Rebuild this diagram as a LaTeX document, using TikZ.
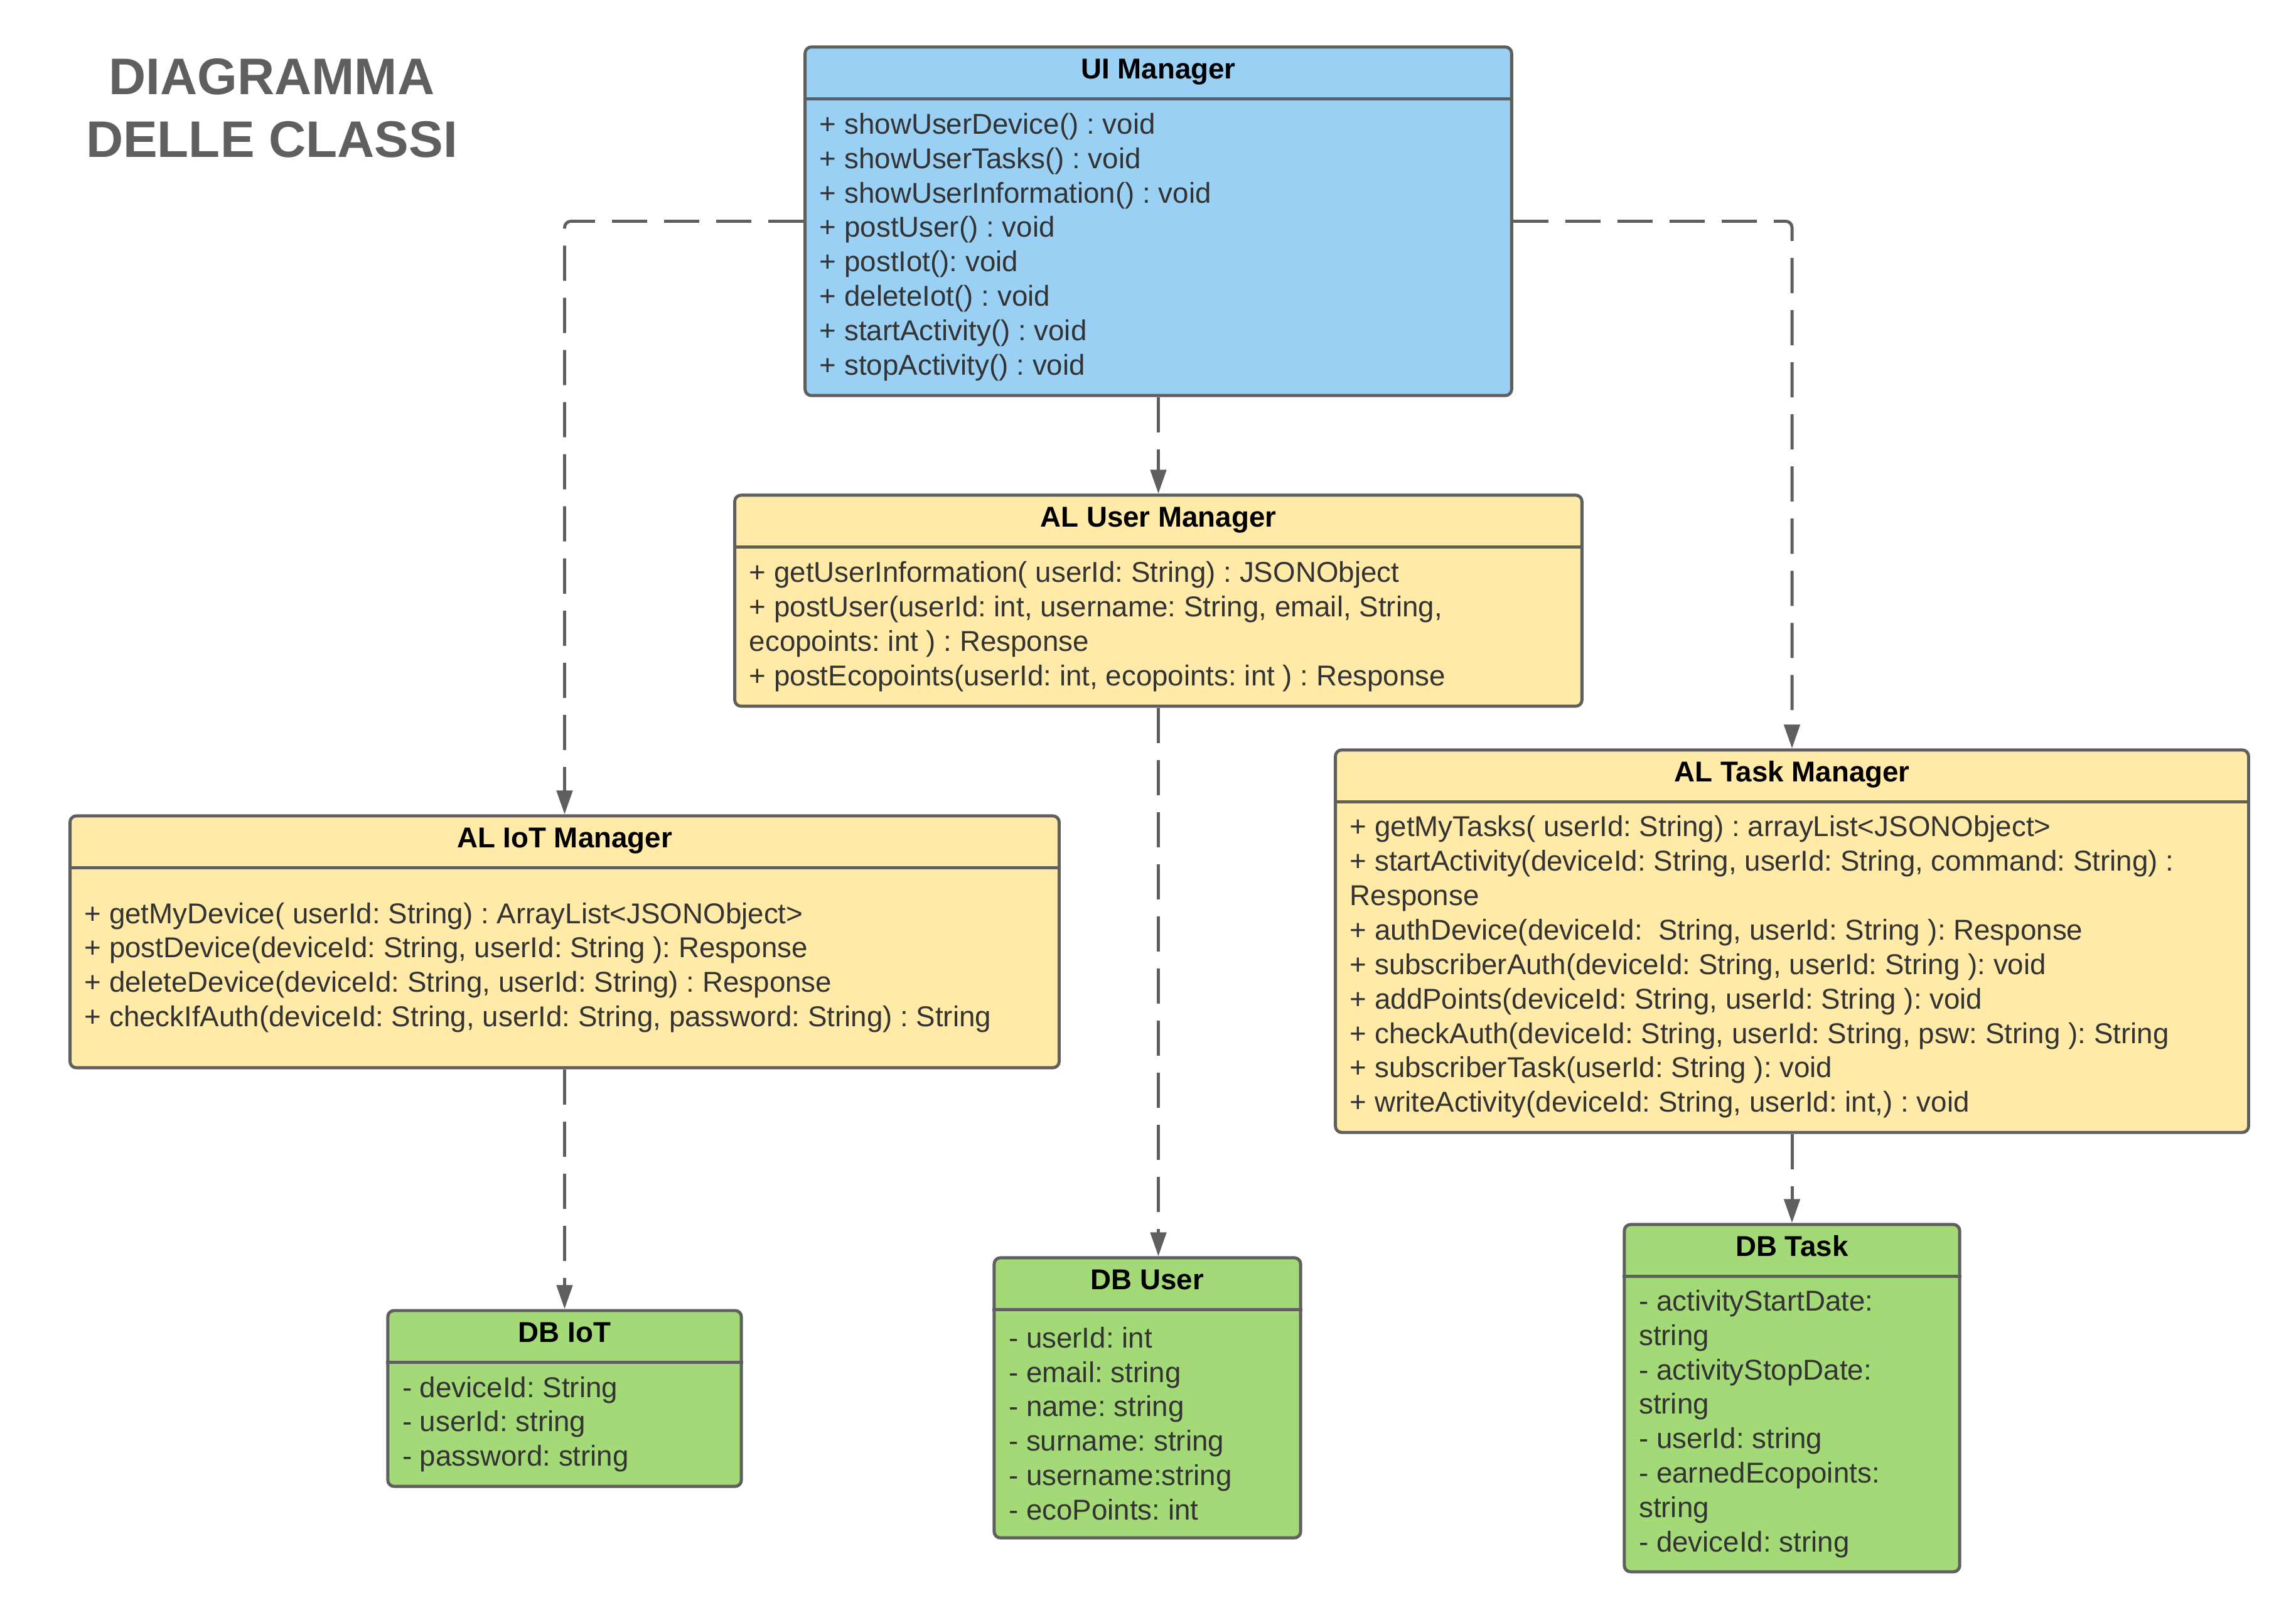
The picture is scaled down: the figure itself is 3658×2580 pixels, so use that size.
\documentclass[tikz,border=0pt]{standalone}
\usepackage{fontspec}
\setmainfont{Liberation Sans}
\usepackage{tikz}
\usetikzlibrary{arrows.meta}
\definecolor{linegray}{HTML}{5F5F5F}
\definecolor{textgray}{HTML}{333333}
\definecolor{uiblue}{HTML}{9AD0F3}
\definecolor{alyellow}{HTML}{FFEAA7}
\definecolor{dbgreen}{HTML}{A3D977}
\frenchspacing

\begin{document}
\begin{tikzpicture} [x=0.01cm, y=-0.01cm,
  classbox/.style={draw=linegray, line width=1.4pt, rounded corners=0.1cm, inner sep=0pt},
  classtitle/.style={font=\bfseries\fontsize{13}{15.6}\selectfont, anchor=base, inner sep=0pt},
  classbody/.style={font=\fontsize{13}{15.6}\selectfont, text=textgray, align=left, anchor=west, inner sep=0pt},
  divider/.style={draw=linegray, line width=1.4pt},
  dep/.style={draw=linegray, line width=1.4pt, dash pattern=on 0.56cm off 0.27cm, rounded corners=0.1cm, -{Triangle[length=0.38cm,width=0.25cm]}}]
\useasboundingbox (0,0) rectangle (3658,2580);
% title
\node [font=\bfseries\fontsize{23.3}{28.4}\selectfont, text=linegray, align=center] (title) at (433,172) {DIAGRAMMA\\DELLE CLASSI};
% UI Manager
\node [classbox, fill=uiblue, minimum width=11.25cm, minimum height=5.55cm] (ui) at (1845.5,352.5) {};
\draw [divider] ([yshift=-0.85cm]ui.north west) -- ([yshift=-0.85cm]ui.north east);
\node [classtitle] (uititle) at ([yshift=-0.53cm]ui.north) {UI Manager};
\node [classbody] (uibody) at ([xshift=0.25cm,yshift=-0.41cm]ui.west) {+ showUserDevice() : void\\+ showUserTasks() : void\\+ showUserInformation() : void\\+ postUser() : void\\+ postIot(): void\\+ deleteIot() : void\\+ startActivity() : void\\+ stopActivity() : void};
% AL User Manager
\node [classbox, fill=alyellow, minimum width=13.49cm, minimum height=3.36cm] (aluser) at (1845.5,957) {};
\draw [divider] ([yshift=-0.85cm]aluser.north west) -- ([yshift=-0.85cm]aluser.north east);
\node [classtitle] (alusertitle) at ([yshift=-0.53cm]aluser.north) {AL User Manager};
\node [classbody] (aluserbody) at ([xshift=0.25cm,yshift=-0.41cm]aluser.west) {+ getUserInformation( userId: String) : JSONObject\\+ postUser(userId: int, username: String, email, String,\\ecopoints: int ) : Response\\+ postEcopoints(userId: int, ecopoints: int ) : Response};
% AL IoT Manager
\node [classbox, fill=alyellow, minimum width=15.75cm, minimum height=4.01cm] (aliot) at (899.5,1500.5) {};
\draw [divider] ([yshift=-0.85cm]aliot.north west) -- ([yshift=-0.85cm]aliot.north east);
\node [classtitle] (aliottitle) at ([yshift=-0.53cm]aliot.north) {AL IoT Manager};
\node [classbody] (aliotbody) at ([xshift=0.25cm,yshift=-0.41cm]aliot.west) {+ getMyDevice( userId: String) : ArrayList<JSONObject>\\+ postDevice(deviceId: String, userId: String ): Response\\+ deleteDevice(deviceId: String, userId: String) : Response\\+ checkIfAuth(deviceId: String, userId: String, password: String) : String};
% AL Task Manager
\node [classbox, fill=alyellow, minimum width=14.54cm, minimum height=6.09cm] (altask) at (2855,1499.5) {};
\draw [divider] ([yshift=-0.85cm]altask.north west) -- ([yshift=-0.85cm]altask.north east);
\node [classtitle] (altasktitle) at ([yshift=-0.53cm]altask.north) {AL Task Manager};
\node [classbody] (altaskbody) at ([xshift=0.25cm,yshift=-0.41cm]altask.west) {+ getMyTasks( userId: String) : arrayList<JSONObject>\\+ startActivity(deviceId: String, userId: String, command: String) :\\Response\\+ authDevice(deviceId: \ String, userId: String ): Response\\+ subscriberAuth(deviceId: String, userId: String ): void\\+ addPoints(deviceId: String, userId: String ): void\\+ checkAuth(deviceId: String, userId: String, psw: String ): String\\+ subscriberTask(userId: String ): void\\+ writeActivity(deviceId: String, userId: int,) : void};
% DB IoT
\node [classbox, fill=dbgreen, minimum width=5.63cm, minimum height=2.8cm] (dbiot) at (899.5,2228) {};
\draw [divider] ([yshift=-0.85cm]dbiot.north west) -- ([yshift=-0.85cm]dbiot.north east);
\node [classtitle] (dbiottitle) at ([yshift=-0.53cm]dbiot.north) {DB IoT};
\node [classbody] (dbiotbody) at ([xshift=0.25cm,yshift=-0.41cm]dbiot.west) {- deviceId: String\\- userId: string\\- password: string};
% DB User
\node [classbox, fill=dbgreen, minimum width=4.88cm, minimum height=4.46cm] (dbuser) at (1828,2227) {};
\draw [divider] ([yshift=-0.85cm]dbuser.north west) -- ([yshift=-0.85cm]dbuser.north east);
\node [classtitle] (dbusertitle) at ([yshift=-0.53cm]dbuser.north) {DB User};
\node [classbody] (dbuserbody) at ([xshift=0.25cm,yshift=-0.41cm]dbuser.west) {- userId: int\\- email: string\\- name: string\\- surname: string\\- username:string\\- ecoPoints: int};
% DB Task
\node [classbox, fill=dbgreen, minimum width=5.34cm, minimum height=5.53cm] (dbtask) at (2855,2227.5) {};
\draw [divider] ([yshift=-0.85cm]dbtask.north west) -- ([yshift=-0.85cm]dbtask.north east);
\node [classtitle] (dbtasktitle) at ([yshift=-0.53cm]dbtask.north) {DB Task};
\node [classbody] (dbtaskbody) at ([xshift=0.25cm,yshift=-0.41cm]dbtask.west) {- activityStartDate:\\string\\- activityStopDate:\\string\\- userId: string\\- earnedEcopoints:\\string\\- deviceId: string};
% dependencies
\draw [dep] (ui.west) -| (aliot.north);
\draw [dep] (ui.south) -- (aluser.north);
\draw [dep] (ui.east) -| (altask.north);
\draw [dep] (aliot.south) -- (dbiot.north);
\draw [dep] (aluser.south) -- (aluser.south |- dbuser.north);
\draw [dep] (altask.south) -- (dbtask.north);

\end{tikzpicture}
\end{document}
